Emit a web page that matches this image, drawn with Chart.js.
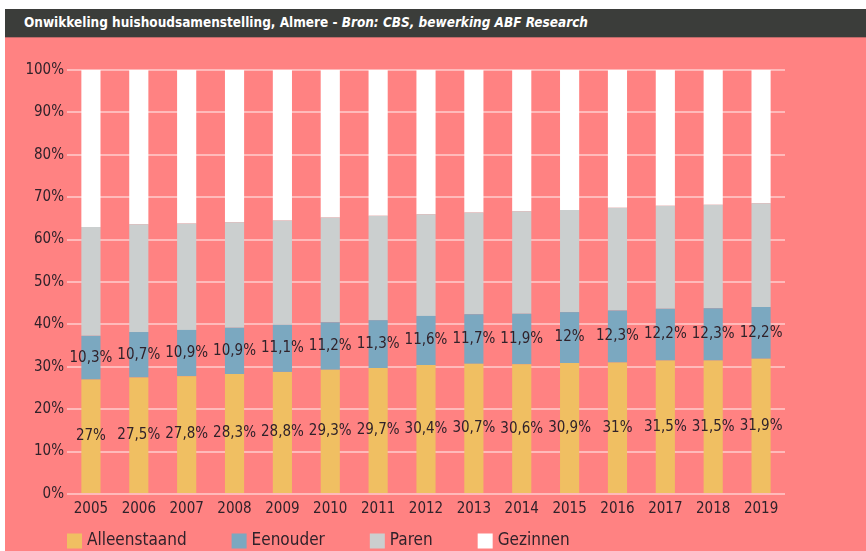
<!DOCTYPE html>
<html>
<head>
<meta charset="utf-8">
<script src="https://cdn.jsdelivr.net/npm/chart.js@4.4.1/dist/chart.umd.min.js"></script>
<style>
  html, body { margin: 0; padding: 0; background: #ffffff; width: 866px; height: 551px; overflow: hidden; }
  #panel { position: absolute; left: 5px; top: 37px; width: 861px; height: 514px; background: #ff8282; border-top: 1px solid #c06a6a; box-sizing: border-box; }
  #titlebar { position: absolute; left: 5px; top: 9px; width: 861px; height: 28px; background: #3b3d3a; }
  #title { position: absolute; left: 19px; top: 5px; color: #ffffff; font-family: 'Liberation Sans Narrow', 'DejaVu Sans Condensed', sans-serif; font-weight: bold; font-size: 14px; white-space: nowrap; transform-origin: 0 50%; }
  #title i { font-style: italic; }
  #wrap { position: absolute; left: 0; top: 0; width: 866px; height: 551px; }
</style>
</head>
<body>
<div id="titlebar"><div id="title">Onwikkeling huishoudsamenstelling, Almere - <i>Bron: CBS, bewerking ABF Research</i></div></div>
<div id="panel"></div>
<div id="wrap"><canvas id="c" width="866" height="551"></canvas></div>
<script>
const years = ['2005','2006','2007','2008','2009','2010','2011','2012','2013','2014','2015','2016','2017','2018','2019'];
const alleenstaand = [27, 27.5, 27.8, 28.3, 28.8, 29.3, 29.7, 30.4, 30.7, 30.6, 30.9, 31, 31.5, 31.5, 31.9];
const eenouder = [10.3, 10.7, 10.9, 10.9, 11.1, 11.2, 11.3, 11.6, 11.7, 11.9, 12, 12.3, 12.2, 12.3, 12.2];
const paren = [25.7, 25.4, 25.1, 24.9, 24.6, 24.7, 24.6, 24.0, 24.0, 24.2, 24.1, 24.2, 24.3, 24.4, 24.5];
const gezinnen = [37.0, 36.4, 36.2, 35.9, 35.5, 34.8, 34.4, 34.0, 33.6, 33.3, 33.0, 32.5, 32.0, 31.8, 31.4];
const yTicks = [0, 10, 20, 30, 40, 50, 60, 70, 80, 90, 100];

const seriesNames = ['Alleenstaand', 'Eenouder', 'Paren', 'Gezinnen'];
const seriesColors = ['#f0bf62', '#7ba8c0', '#cbcfcf', '#ffffff'];
const labelledSeries = [0, 1];

const textColor = '#30222a';
const fontFam = "'DejaVu Sans Condensed', 'Liberation Sans Narrow', sans-serif";

function fmt(v) { return String(v).replace('.', ','); }

const dataLabels = {
  id: 'dataLabels',
  afterDatasetsDraw(chart) {
    const ctx = chart.ctx;
    ctx.save();
    ctx.font = '15px ' + fontFam;
    ctx.fillStyle = textColor;
    ctx.textAlign = 'center';
    ctx.textBaseline = 'middle';
    labelledSeries.forEach(di => {
      const meta = chart.getDatasetMeta(di);
      meta.data.forEach((el, i) => {
        const v = chart.data.datasets[di].data[i];
        ctx.fillText(fmt(v) + '%', el.x, (el.y + el.base) / 2);
      });
    });
    ctx.restore();
  }
};

const customLegend = {
  id: 'customLegend',
  afterDraw(chart) {
    const ctx = chart.ctx;
    ctx.save();
    ctx.font = '17px ' + fontFam;
    ctx.textBaseline = 'middle';
    ctx.textAlign = 'left';
    let x = chart.chartArea.left;
    const yc = 541;
    const box = 15, gap = 5, itemGap = 45;
    chart.data.datasets.forEach(ds => {
      ctx.fillStyle = ds.backgroundColor;
      ctx.fillRect(x, yc - box / 2, box, box);
      ctx.fillStyle = textColor;
      ctx.fillText(ds.label, x + box + gap, yc);
      x += box + gap + ctx.measureText(ds.label).width + itemGap;
    });
    ctx.restore();
  }
};

const allSeries = [alleenstaand, eenouder, paren, gezinnen];
new Chart(document.getElementById('c'), {
  type: 'bar',
  data: {
    labels: years,
    datasets: allSeries.map((d, i) => ({
      label: seriesNames[i],
      data: d,
      backgroundColor: seriesColors[i],
      borderWidth: 0,
      barPercentage: 0.4,
      categoryPercentage: 1.0
    }))
  },
  options: {
    responsive: false,
    animation: false,
    layout: { padding: { left: 0, right: 81, top: 70, bottom: 27 } },
    plugins: { legend: { display: false }, tooltip: { enabled: false }, title: { display: false } },
    scales: {
      x: {
        stacked: true,
        grid: { display: false, drawTicks: false },
        border: { display: false },
        ticks: { color: textColor, font: { family: fontFam, size: 15 }, padding: 6, maxRotation: 0, autoSkip: false },
        afterFit(s) { s.height = 30; }
      },
      y: {
        stacked: true,
        min: 0, max: 100,
        afterBuildTicks(s) { s.ticks = yTicks.map(v => ({ value: v })); },
        grid: { color: 'rgba(255,255,255,0.45)', lineWidth: 2, drawTicks: false },
        border: { display: false },
        ticks: { color: textColor, font: { family: fontFam, size: 15 }, padding: 3, callback: v => v + '%' },
        afterFit(s) { s.width = 67; }
      }
    }
  },
  plugins: [dataLabels, customLegend]
});

// fit title width to reference span
(function(){
  const t = document.getElementById('title');
  const w = t.getBoundingClientRect().width;
  const target = 564;
  t.style.transform = 'scaleX(' + (target / w) + ')';
})();
</script>
</body>
</html>
